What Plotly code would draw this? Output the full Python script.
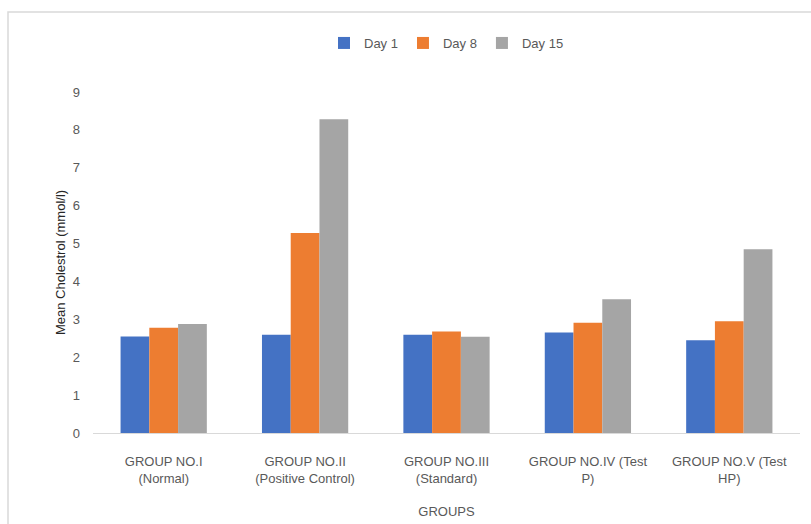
import plotly.graph_objects as go

groups = [
    "GROUP NO.I<br>(Normal)",
    "GROUP NO.II<br>(Positive Control)",
    "GROUP NO.III<br>(Standard)",
    "GROUP NO.IV (Test<br>P)",
    "GROUP NO.V (Test<br>HP)",
]
day1 = [2.55, 2.59, 2.59, 2.65, 2.45]
day8 = [2.78, 5.28, 2.68, 2.91, 2.95]
day15 = [2.88, 8.28, 2.54, 3.53, 4.85]

series = [("Day 1", day1, "#4472C4"), ("Day 8", day8, "#ED7D31"), ("Day 15", day15, "#A5A5A5")]

font_family = "Liberation Sans Narrow, Liberation Sans, Arial, sans-serif"
text_color = "#595959"

fig = go.Figure()
for name, vals, color in series:
    fig.add_trace(go.Bar(name=name, x=groups, y=vals, marker=dict(color=color, line=dict(width=0))))

W, H = 811, 524
ml, mr, mt, mb = 93, 11, 92, 91
pw, ph = W - ml - mr, H - mt - mb

# light chart-area border (top-left edges visible)
fig.add_shape(type="rect", xref="paper", yref="paper",
              x0=(8 - ml) / pw, x1=(W + 20 - ml) / pw,
              y0=(H - mb - (H + 20)) / ph, y1=(H - mb - 12) / ph,
              line=dict(color="#d9d9d9", width=1.5), fillcolor="rgba(0,0,0,0)", layer="below")

fig.update_layout(
    width=W, height=H,
    margin=dict(l=ml, r=mr, t=mt, b=mb),
    paper_bgcolor="white", plot_bgcolor="white",
    barmode="group", bargap=0.39, bargroupgap=0,
    font=dict(family=font_family, size=12, color=text_color),
    legend=dict(orientation="h", x=0.5, xanchor="center", y=(H - mb - 43) / ph, yanchor="middle",
                font=dict(size=13, color=text_color), itemwidth=30, traceorder="normal"),
    showlegend=True,
)
fig.update_xaxes(showline=True, linecolor="#d9d9d9", linewidth=1, ticks="", showgrid=False,
                 ticklabelstandoff=16, automargin=False,
                 tickfont=dict(size=13, color=text_color),
                 title=dict(text="GROUPS", font=dict(size=13, color=text_color), standoff=22))
fig.update_yaxes(range=[0, 9], dtick=1, showgrid=False, zeroline=False, showline=False,
                 ticks="", ticklabelstandoff=12, tickfont=dict(size=13, color=text_color), automargin=False,
                 title=dict(text="Mean Cholestrol (mmol/l)", font=dict(size=13, color="#262626"), standoff=4))

fig.write_html("out.html")
